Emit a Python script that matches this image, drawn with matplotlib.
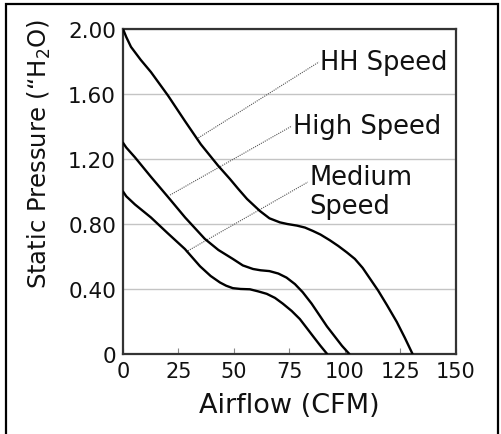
import matplotlib
matplotlib.use("Agg")
import matplotlib.pyplot as plt
from matplotlib.patches import Rectangle

# courbes (CFM, "H2O)
hh_x = [0, 1.5, 3.6, 8, 12.6, 20.3, 27.9, 35.1, 42.8, 48.2, 52, 55.9, 61.7, 66, 70.7, 74, 78.4, 82,
        85.6, 89, 93.2, 97, 100.9, 104.5, 108, 111.5, 115, 119, 123.4, 127, 130.5]
hh_y = [2.00, 1.95, 1.89, 1.81, 1.735, 1.59, 1.434, 1.29, 1.16, 1.077, 1.015, 0.954, 0.88, 0.835, 0.81,
        0.80, 0.79, 0.778, 0.757, 0.735, 0.70, 0.665, 0.625, 0.585, 0.53, 0.46, 0.39, 0.30, 0.197, 0.10, 0.0]

high_x = [0, 1.5, 5.4, 12.6, 20.3, 28, 36.9, 43, 49.5, 54, 58.6, 62, 66, 70, 73.7, 77.5, 81, 85,
          88.7, 91.9, 95.3, 98.7, 102]
high_y = [1.30, 1.27, 1.21, 1.09, 0.966, 0.84, 0.708, 0.64, 0.585, 0.545, 0.523, 0.515, 0.51, 0.495,
          0.47, 0.43, 0.38, 0.31, 0.235, 0.17, 0.11, 0.05, 0.0]

med_x = [0, 1.5, 5.4, 12.6, 20, 27.9, 34.7, 39.5, 43.7, 46.5, 49.5, 53, 57.2, 61, 64.8, 68.5, 72, 76,
         79.7, 82.8, 85.6, 89, 92]
med_y = [1.00, 0.97, 0.92, 0.84, 0.745, 0.646, 0.54, 0.48, 0.44, 0.42, 0.405, 0.40, 0.398, 0.385, 0.37,
         0.345, 0.31, 0.265, 0.215, 0.16, 0.11, 0.05, 0.0]

# étiquettes : texte, point sur la courbe, bout du trait pointillé
labels = ["HH Speed", "High Speed", "Medium\nSpeed"]
label_from = [(34.0, 1.33), (21.2, 0.978), (28.4, 0.628)]
label_to = [(88.3, 1.797), (76.1, 1.403), (83.3, 1.058)]

x_ticks = [0, 25, 50, 75, 100, 125, 150]
y_ticks = [0, 0.4, 0.8, 1.2, 1.6, 2.0]
y_tick_labels = ["0", "0.40", "0.80", "1.20", "1.60", "2.00"]

plt.rcParams['font.family'] = ['DejaVu Sans']
plt.rcParams['mathtext.fontset'] = 'dejavusans'

fig = plt.figure(figsize=(5.02, 4.35), dpi=100)
ax = fig.add_axes([0.245, 0.184, 0.663, 0.747])

# cadre autour de la figure
fig.add_artist(Rectangle((6 / 502, -0.05), 492 / 502, 1.05 - 5 / 435,
                         transform=fig.transFigure, fill=False,
                         edgecolor="black", lw=1.6, clip_on=False))

for xs, ys in [(hh_x, hh_y), (high_x, high_y), (med_x, med_y)]:
    ax.plot(xs, ys, color="black", lw=1.7, solid_joinstyle="round",
            solid_capstyle="round", zorder=3)

for txt, p0, p1 in zip(labels, label_from, label_to):
    ax.plot([p0[0], p1[0]], [p0[1], p1[1]], color="#555555", lw=0.8,
            linestyle=(0, (1, 1)), zorder=2)
    if "\n" in txt:
        ax.text(p1[0] + 0.6, p1[1] + 0.11, txt, fontsize=18.5, va="top",
                ha="left", color="#111111", linespacing=1.15)
    else:
        ax.text(p1[0] + 0.3, p1[1], txt, fontsize=18.5, va="center",
                ha="left", color="#111111")

ax.set_xlim(0, 150)
ax.set_ylim(0, 2.0)
ax.set_xticks(x_ticks)
ax.set_yticks(y_ticks)
ax.set_yticklabels(y_tick_labels)
ax.tick_params(axis="x", direction="in", length=4, width=0.8, color="#888888",
               labelsize=15, pad=5, labelcolor="#111111")
ax.tick_params(axis="y", length=0, labelsize=15.5, pad=5, labelcolor="#111111")
ax.grid(axis="y", color="#c4c4c4", lw=1)
ax.set_axisbelow(True)
for s in ax.spines.values():
    s.set_color("#333333")
    s.set_linewidth(1.6)

ax.set_xlabel("Airflow (CFM)", fontsize=19.5, color="#111111", labelpad=8)
ax.set_ylabel("Static Pressure (“H$_2$O)", fontsize=17.5, color="#111111")
ax.yaxis.set_label_coords(-0.21, 0.62)

fig.savefig("out.png", dpi=100)
